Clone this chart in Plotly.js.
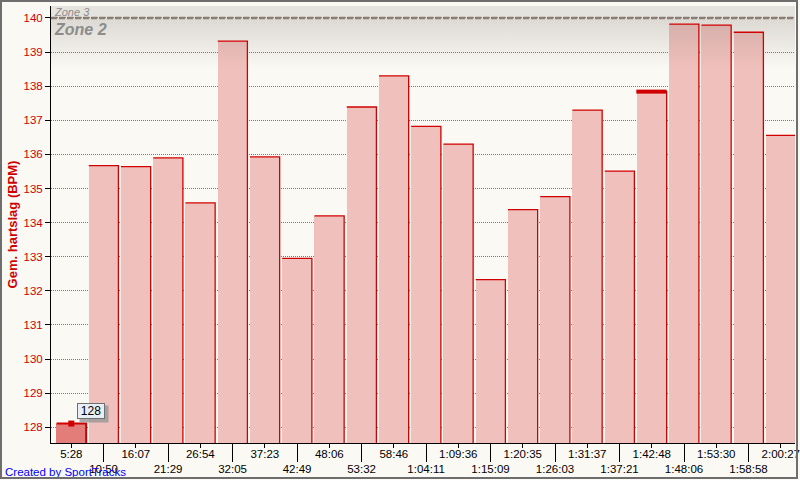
<!DOCTYPE html>
<html>
<head>
<meta charset="utf-8">
<script src="https://cdn.plot.ly/plotly-3.0.1.min.js"></script>
<style>
  html, body { margin: 0; padding: 0; background: #fbf9f4; }
  #wrap { position: relative; width: 800px; height: 480px; }
  #chart { width: 800px; height: 480px; }
  #frame { position: absolute; left: 0; top: 0; width: 798px; height: 479px; box-sizing: border-box;
           border: 2px solid #6e6e6e; pointer-events: none; }
</style>
</head>
<body>
<div id="wrap"><div id="chart"></div><div id="frame"></div></div>
<script>
// ---- data ----
const lapLabels = ['5:28','10:50','16:07','21:29','26:54','32:05','37:23','42:49','48:06','53:32','58:46',
  '1:04:11','1:09:36','1:15:09','1:20:35','1:26:03','1:31:37','1:37:21','1:42:48','1:48:06','1:53:30','1:58:58','2:00:27'];
const avgHR = [128.11,135.67,135.64,135.90,134.58,139.32,135.93,132.95,134.20,137.39,138.30,
  136.82,136.30,132.33,134.38,134.76,137.30,135.51,137.84,139.82,139.79,139.58,136.56];
const selectedIndex = 0;      // bar with tooltip
const highlightIndex = 18;    // bar with thick top marker
const zoneBoundary = 140;     // Zone 2 / Zone 3 boundary
const yTicks = [128,129,130,131,132,133,134,135,136,137,138,139,140];

// ---- layout constants ----
const W = 800, H = 480;
const M = {l: 51, r: 5, t: 6, b: 37};
const plotW = W - M.l - M.r, plotH = H - M.t - M.b;
const xRange = [-0.63, 22.44];
const yRange = [127.54, 140.35];
const bw = 0.92;
const red = '#d00000';
const idx = lapLabels.map((_, i) => i);

// bar fills
const fills = avgHR.map((_, i) => i === selectedIndex ? '#e27d7a' : '#f0c0bc');
const bars = {
  type: 'bar', x: idx, y: avgHR, width: bw, base: 0,
  marker: {color: fills, line: {width: 0}}, hoverinfo: 'skip'
};

// top + right outline of each bar
const ex = [], ey = [];
avgHR.forEach((v, i) => {
  if (i === selectedIndex) return;
  ex.push(i - bw/2, i + bw/2, i + bw/2, null);
  ey.push(v, v, yRange[0], null);
});
const edges = {type: 'scatter', mode: 'lines', x: ex, y: ey, xaxis: 'x2',
  line: {color: red, width: 1.3}, hoverinfo: 'skip', showlegend: false};
const sv = avgHR[selectedIndex];
const selEdges = {type: 'scatter', mode: 'lines', xaxis: 'x2',
  x: [selectedIndex - bw/2, selectedIndex + bw/2, selectedIndex + bw/2],
  y: [sv, sv, yRange[0]], line: {color: red, width: 2}, hoverinfo: 'skip', showlegend: false};
const hv = avgHR[highlightIndex];
const hiTop = {type: 'scatter', mode: 'lines', xaxis: 'x2',
  x: [highlightIndex - bw/2 - 0.02, highlightIndex + bw/2], y: [hv, hv],
  line: {color: red, width: 4}, hoverinfo: 'skip', showlegend: false};
const selMarker = {type: 'scatter', mode: 'markers', xaxis: 'x2',
  x: [selectedIndex], y: [sv], marker: {symbol: 'square', size: 6, color: red},
  hoverinfo: 'skip', showlegend: false};

// zone shading (gradient below boundary)
const band = {type: 'scatter', mode: 'lines', x: [xRange[0], xRange[1], xRange[1], xRange[0], xRange[0]],
  y: [zoneBoundary, zoneBoundary, zoneBoundary - 1.5, zoneBoundary - 1.5, zoneBoundary],
  fill: 'toself', line: {width: 0}, hoverinfo: 'skip', showlegend: false,
  fillgradient: {type: 'vertical', colorscale: [[0, 'rgba(120,114,106,0)'], [1, 'rgba(120,114,106,0.24)']]}};

const evenIdx = idx.filter(i => i % 2 === 0), oddIdx = idx.filter(i => i % 2 === 1);
const font = 'Liberation Sans, Arial, sans-serif';

const layout = {
  width: W, height: H, margin: M,
  paper_bgcolor: '#fbf9f4', plot_bgcolor: '#fbf9f4',
  showlegend: false, bargap: 0,
  font: {family: font, size: 11, color: '#000'},
  xaxis: {range: xRange, tickvals: evenIdx, ticktext: evenIdx.map(i => lapLabels[i]),
    ticks: 'outside', ticklen: 4, tickcolor: '#000', tickwidth: 1, ticklabelstandoff: -4,
    showline: true, linecolor: '#000', linewidth: 1, showgrid: false, zeroline: false,
    tickfont: {family: font, size: 11.5, color: '#000'}, fixedrange: true},
  xaxis2: {range: xRange, overlaying: 'x', anchor: 'y', side: 'bottom',
    tickvals: oddIdx, ticktext: oddIdx.map(i => lapLabels[i]),
    ticks: 'outside', ticklen: 18, tickcolor: '#000', tickwidth: 1, ticklabelstandoff: -3,
    showline: false, showgrid: false, zeroline: false,
    tickfont: {family: font, size: 11.5, color: '#000'}, fixedrange: true},
  yaxis: {range: yRange, tickvals: yTicks, ticks: 'outside', ticklen: 5, tickcolor: '#000',
    showline: true, linecolor: '#000', linewidth: 1, zeroline: false,
    showgrid: true, gridcolor: '#7a7a7a', gridwidth: 1, griddash: '1px,1px',
    tickfont: {family: font, size: 11.5, color: red},
    title: {text: '<b>Gem. hartslag (BPM)</b>', font: {family: font, size: 13, color: red}, standoff: 2},
    fixedrange: true},
  shapes: [
    {type: 'rect', xref: 'paper', yref: 'y', x0: 0, x1: 1, y0: zoneBoundary, y1: yRange[1],
     fillcolor: 'rgba(120,114,106,0.16)', line: {width: 0}, layer: 'above'},
    {type: 'line', xref: 'paper', yref: 'y', x0: 0, x1: 1, y0: zoneBoundary, y1: zoneBoundary,
     line: {color: '#8a7d76', width: 2.5, dash: '6px,2px'}, layer: 'above'}
  ],
  annotations: [
    {xref: 'paper', yref: 'y', x: 0, y: zoneBoundary, xanchor: 'left', yanchor: 'bottom', xshift: 1, yshift: -2,
     text: '<i>Zone 3</i>', showarrow: false, font: {family: font, size: 11, color: '#8c8c8c'}},
    {xref: 'paper', yref: 'y', x: 0, y: zoneBoundary, xanchor: 'left', yanchor: 'top', xshift: 1, yshift: -1,
     text: '<b><i>Zone 2</i></b>', showarrow: false, font: {family: font, size: 16, color: '#8c8c8c'}},
    // tooltip shadow + box
    {xref: 'x', yref: 'y', x: selectedIndex, y: sv, xshift: 23, yshift: 10, showarrow: false,
     text: ' ', width: 28, height: 16, bgcolor: 'rgba(150,150,150,0.8)', borderpad: 0},
    {xref: 'x', yref: 'y', x: selectedIndex, y: sv, xshift: 20, yshift: 13, showarrow: false,
     text: String(Math.round(sv)), width: 26, height: 14, bgcolor: '#e8eef6', bordercolor: '#6f6f6f',
     borderwidth: 1, borderpad: 0, font: {family: font, size: 12, color: '#000'}},
    {xref: 'paper', yref: 'paper', x: (3 - M.l) / plotW, y: -(471.5 - (H - M.b)) / plotH,
     xanchor: 'left', yanchor: 'middle', showarrow: false, text: 'Created by SportTracks',
     font: {family: font, size: 11.5, color: '#0000ff'}}
  ]
};

Plotly.newPlot('chart', [bars, band, edges, selEdges, hiTop, selMarker], layout, {staticPlot: true, displayModeBar: false});
</script>
</body>
</html>
